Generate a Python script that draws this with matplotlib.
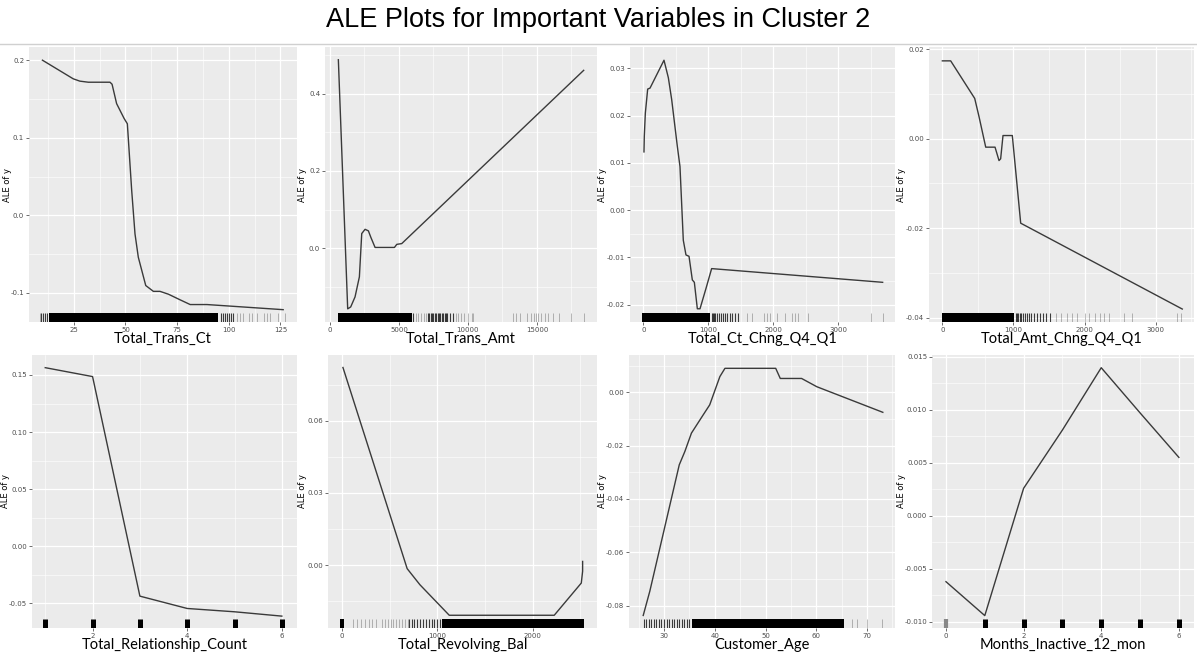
import numpy as np
import matplotlib.pyplot as plt
import matplotlib.transforms as mtransforms
from matplotlib.patches import Rectangle
from matplotlib.ticker import MultipleLocator, FormatStrFormatter

plt.rcParams["axes.unicode_minus"] = False

titulo = "ALE Plots for Important Variables in Cluster 2"

# Total_Trans_Ct
trans_ct_x = [9.8, 24.7, 27.9, 32.0, 42.5, 43.5, 45.7, 49.3, 50.9, 53.0, 54.6, 56.2,
              59.8, 63.5, 66.7, 70.8, 76.5, 81.3, 89.4, 126.3]
trans_ct_y = [0.200, 0.176, 0.173, 0.1716, 0.1716, 0.169, 0.144, 0.125, 0.118, 0.032,
              -0.024, -0.054, -0.0905, -0.098, -0.098, -0.1017, -0.109, -0.115, -0.115, -0.1216]
trans_ct_rug_blocos = [(13, 95, 1.0)]
trans_ct_rug_escuras = [9, 10, 11, 12, 96, 97, 98, 99, 100, 101, 102]
trans_ct_rug_claras = [8.5, 104, 105.6, 107, 109.6, 111, 113.7, 117, 118.5, 120, 124, 127.4]

# Total_Trans_Amt
trans_amt_x = [605, 1282, 1500, 1815, 2130, 2300, 2541, 2783, 2952, 3267, 4670, 4840, 5200, 18390]
trans_amt_y = [0.488, -0.157, -0.152, -0.126, -0.074, 0.038, 0.049, 0.045, 0.029, 0.002,
               0.002, 0.010, 0.012, 0.4606]
trans_amt_rug_blocos = [(550, 5950, 1.0)]
trans_amt_rug_escuras = [6050, 7100, 7200, 7300, 7400, 7500, 7600, 7700, 7800, 7900, 8000,
                         8100, 8200, 8300, 8400, 8500, 8700, 8900]
trans_amt_rug_claras = [6200, 6400, 6600, 6800, 6950, 9100, 9300, 9500, 9700, 10000, 10300,
                        10400, 13300, 13500, 13800, 14300, 14600, 14800, 14900, 15100, 15300,
                        15600, 15800, 16200, 16600, 17500, 18400]

# Total_Ct_Chng_Q4_Q1
ct_chng_x = [10, 15, 31, 67, 103, 318, 385, 436, 523, 564, 615, 656, 703, 754, 785, 831,
             872, 964, 1051, 3682]
ct_chng_y = [0.0123, 0.0156, 0.0205, 0.0256, 0.0258, 0.0317, 0.028, 0.0234, 0.0135, 0.0092,
             -0.0064, -0.0095, -0.0098, -0.0148, -0.0153, -0.0209, -0.0209, -0.0166, -0.0124, -0.0153]
ct_chng_rug_blocos = [(-20, 1030, 1.0)]
ct_chng_rug_escuras = [1050, 1070, 1090, 1110, 1130, 1160, 1190, 1220, 1250, 1290, 1330,
                       1370, 1410, 1450]
ct_chng_rug_claras = [1590, 1670, 1850, 1900, 1950, 2050, 2180, 2280, 2330, 2380, 2540,
                      3510, 3680]

# Total_Amt_Chng_Q4_Q1
amt_chng_x = [0, 117, 455, 516, 610, 741, 797, 820, 853, 984, 1102, 3375]
amt_chng_y = [0.0174, 0.0174, 0.0090, 0.0049, -0.0019, -0.0019, -0.0049, -0.0045, 0.0007,
              0.0007, -0.0189, -0.0381]
amt_chng_rug_blocos = [(-10, 1010, 1.0)]
amt_chng_rug_escuras = [1030, 1050, 1070, 1090, 1110, 1130, 1160, 1190, 1220, 1250, 1290,
                        1330, 1370, 1410, 1460, 1520]
amt_chng_rug_claras = [1594, 1664, 1758, 1828, 1898, 2010, 2060, 2150, 2220, 2280, 2340,
                       2555, 2672, 3305, 3352]

# Total_Relationship_Count
rel_x = [1, 2, 3, 4, 5, 6]
rel_y = [0.1564, 0.1486, -0.0437, -0.0545, -0.0574, -0.0612]
rel_rug_grossas = [1, 2, 3, 4, 5, 6]

# Total_Revolving_Bal
rev_x = [10, 684, 818, 1126, 2228, 2512, 2526, 2526]
rev_y = [0.0822, -0.0015, -0.0082, -0.0209, -0.0209, -0.0075, -0.0026, 0.0015]
rev_rug_blocos = [(-25, 25, 1.0), (1050, 2540, 1.0)]
rev_rug_escuras = [700, 730, 760, 790, 820, 850, 880, 910, 940, 970, 1000, 1025]
rev_rug_claras = [120, 160, 200, 240, 280, 320, 360, 420, 450, 480, 510, 540, 570, 600, 630,
                  660, 690]

# Customer_Age
age_x = [25.9, 27.2, 33.0, 34.1, 35.4, 37.7, 39.0, 41.0, 42.0, 52.0, 52.9, 57.1, 60.1, 73.1]
age_y = [-0.0837, -0.0746, -0.0272, -0.0222, -0.0153, -0.0085, -0.0047, 0.0059, 0.0090,
         0.0090, 0.0052, 0.0052, 0.0021, -0.0075]
age_rug_blocos = [(35.5, 65.5, 1.0)]
age_rug_escuras = [26, 26.5, 27, 27.5, 28, 28.5, 29, 29.5, 30, 30.5, 31, 31.5, 32, 32.5,
                   33, 33.5, 34, 34.5, 35]
age_rug_claras = [67, 68, 70, 73]

# Months_Inactive_12_mon
inact_x = [0, 1, 2, 3, 4, 5, 6]
inact_y = [-0.00623, -0.00943, 0.00258, 0.00808, 0.01396, 0.0097, 0.0055]
inact_rug_grossas = [1, 2, 3, 4, 5, 6]
inact_rug_cinzas = [0]


def desenhar_painel(fig, p):
    W, H = 1197, 659
    l, t, r, b = p["caixa"]
    ax = fig.add_axes([l / W, 1 - b / H, (r - l) / W, (b - t) / H])
    ax.set_facecolor("#EBEBEB")
    for s in ax.spines.values():
        s.set_visible(False)

    ax.xaxis.set_major_locator(MultipleLocator(p["xpasso"]))
    ax.xaxis.set_minor_locator(MultipleLocator(p["xpasso"] / 2))
    ax.yaxis.set_major_locator(MultipleLocator(p["ypasso"]))
    ax.yaxis.set_minor_locator(MultipleLocator(p["ypasso"] / 2))
    ax.yaxis.set_major_formatter(FormatStrFormatter(p["yfmt"]))
    ax.xaxis.set_major_formatter(FormatStrFormatter("%d"))
    ax.grid(which="major", color="white", lw=0.9)
    ax.grid(which="minor", color="white", lw=0.4)
    ax.set_axisbelow(True)
    ax.tick_params(which="major", length=2, width=0.5, color="#333333",
                   labelsize=5, labelcolor="#4D4D4D", pad=1.5)
    ax.tick_params(which="minor", length=0)

    # rug na base do painel
    trans = mtransforms.blended_transform_factory(ax.transData, ax.transAxes)
    altura = 0.034
    for lo, hi, a in p.get("blocos", []):
        ax.add_patch(Rectangle((lo, 0), hi - lo, altura, transform=trans,
                               facecolor="black", alpha=a, lw=0))
    if p.get("escuras"):
        ax.vlines(p["escuras"], 0, altura, transform=trans, colors="black", alpha=0.75, lw=0.8)
    if p.get("claras"):
        ax.vlines(p["claras"], 0, altura, transform=trans, colors="black", alpha=0.3, lw=0.6)
    if p.get("grossas"):
        ax.vlines(p["grossas"], 0, altura, transform=trans, colors="black", lw=3.6)
    if p.get("cinzas"):
        ax.vlines(p["cinzas"], 0, altura, transform=trans, colors="#888888", lw=3.0)

    ax.plot(p["x"], p["y"], color="#3a3a3a", lw=1.0)
    ax.set_xlim(p["xlim"])
    ax.set_ylim(p["ylim"])
    ax.set_ylabel("ALE of y", fontsize=6)
    ax.yaxis.set_label_coords(p["ylab_dx"] / (r - l), 0.5)

    cx = (l + r) / 2 / W
    fig.text(cx, p["xlab_y"], p["nome"], ha="center", va="center",
             fontsize=10.5, family="Lato")
    return ax


def main():
    fig = plt.figure(figsize=(11.97, 6.59), dpi=100)
    fig.text(0.5, 0.969, titulo, ha="center", va="center", fontsize=19.5, family="Liberation Sans")
    fig.add_artist(plt.Line2D([0, 1], [0.933, 0.933], color="#D0D0D0", lw=1.0))

    paineis = [
        dict(nome="Total_Trans_Ct", x=trans_ct_x, y=trans_ct_y, caixa=(29, 47, 297, 322),
             xlim=(3.3, 133), ylim=(-0.1375, 0.217), xpasso=25, ypasso=0.1, yfmt="%.1f",
             blocos=trans_ct_rug_blocos, escuras=trans_ct_rug_escuras,
             claras=trans_ct_rug_claras, xlab_y=0.4856, ylab_dx=-17),
        dict(nome="Total_Trans_Amt", x=trans_amt_x, y=trans_amt_y, caixa=(325, 47, 597, 322),
             xlim=(-363, 19355), ylim=(-0.191, 0.521), xpasso=5000, ypasso=0.2, yfmt="%.1f",
             blocos=trans_amt_rug_blocos, escuras=trans_amt_rug_escuras,
             claras=trans_amt_rug_claras, xlab_y=0.4856, ylab_dx=-18),
        dict(nome="Total_Ct_Chng_Q4_Q1", x=ct_chng_x, y=ct_chng_y, caixa=(630, 47, 895, 322),
             xlim=(-205, 3872), ylim=(-0.0237, 0.0345), xpasso=1000, ypasso=0.01, yfmt="%.2f",
             blocos=ct_chng_rug_blocos, escuras=ct_chng_rug_escuras,
             claras=ct_chng_rug_claras, xlab_y=0.4856, ylab_dx=-23),
        dict(nome="Total_Amt_Chng_Q4_Q1", x=amt_chng_x, y=amt_chng_y, caixa=(929, 47, 1194, 322),
             xlim=(-188, 3540), ylim=(-0.041, 0.0205), xpasso=1000, ypasso=0.02, yfmt="%.2f",
             blocos=amt_chng_rug_blocos, escuras=amt_chng_rug_escuras,
             claras=amt_chng_rug_claras, xlab_y=0.4856, ylab_dx=-23),
        dict(nome="Total_Relationship_Count", x=rel_x, y=rel_y, caixa=(32, 355, 297, 628),
             xlim=(0.72, 6.32), ylim=(-0.0716, 0.1675), xpasso=2, ypasso=0.05, yfmt="%.2f",
             grossas=rel_rug_grossas, xlab_y=0.0212, ylab_dx=-22),
        dict(nome="Total_Revolving_Bal", x=rev_x, y=rev_y, caixa=(328, 355, 597, 628),
             xlim=(-147, 2677), ylim=(-0.0262, 0.0874), xpasso=1000, ypasso=0.03, yfmt="%.2f",
             blocos=rev_rug_blocos, escuras=rev_rug_escuras, claras=rev_rug_claras,
             xlab_y=0.0212, ylab_dx=-21),
        dict(nome="Customer_Age", x=age_x, y=age_y, caixa=(629, 355, 895, 628),
             xlim=(23.1, 75.5), ylim=(-0.0884, 0.014), xpasso=10, ypasso=0.02, yfmt="%.2f",
             blocos=age_rug_blocos, escuras=age_rug_escuras, claras=age_rug_claras,
             xlab_y=0.0212, ylab_dx=-22),
        dict(nome="Months_Inactive_12_mon", x=inact_x, y=inact_y, caixa=(932, 355, 1194, 628),
             xlim=(-0.36, 6.39), ylim=(-0.0106, 0.01516), xpasso=2, ypasso=0.005, yfmt="%.3f",
             grossas=inact_rug_grossas, cinzas=inact_rug_cinzas, xlab_y=0.0212, ylab_dx=-26),
    ]

    for p in paineis:
        desenhar_painel(fig, p)

    fig.savefig("out.png", dpi=100)


if __name__ == "__main__":
    main()
